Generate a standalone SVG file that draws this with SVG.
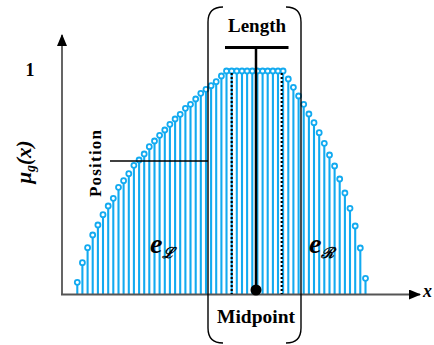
<svg xmlns="http://www.w3.org/2000/svg" width="434" height="345" viewBox="0 0 434 345">
<style>
.st{stroke:#12AAF0;stroke-width:2.1}
.dot{fill:#fff;stroke:#12AAF0;stroke-width:1.8}
.ax{stroke:#555;stroke-width:1.8;fill:none}
.blk{stroke:#000;fill:none}
.lbl{font-family:"Liberation Serif","Times New Roman",serif;font-weight:bold;fill:#000}
</style>
<defs>
<marker id="arr" viewBox="0 0 12 10" refX="11" refY="5" markerWidth="12" markerHeight="10" markerUnits="userSpaceOnUse" orient="auto"><path d="M0,0 L12,5 L0,10 Z" fill="#000"/></marker>
</defs>
<rect width="434" height="345" fill="#fff"/>
<g id="stems">
<line class="st" x1="77.3" y1="294" x2="77.3" y2="282.3"/><circle class="dot" cx="77.3" cy="282.3" r="2.5"/>
<line class="st" x1="82.4" y1="294" x2="82.4" y2="262.7"/><circle class="dot" cx="82.4" cy="262.7" r="2.5"/>
<line class="st" x1="87.6" y1="294" x2="87.6" y2="247.7"/><circle class="dot" cx="87.6" cy="247.7" r="2.5"/>
<line class="st" x1="92.7" y1="294" x2="92.7" y2="235"/><circle class="dot" cx="92.7" cy="235" r="2.5"/>
<line class="st" x1="97.9" y1="294" x2="97.9" y2="225"/><circle class="dot" cx="97.9" cy="225" r="2.5"/>
<line class="st" x1="103" y1="294" x2="103" y2="214.7"/><circle class="dot" cx="103" cy="214.7" r="2.5"/>
<line class="st" x1="108.2" y1="294" x2="108.2" y2="206"/><circle class="dot" cx="108.2" cy="206" r="2.5"/>
<line class="st" x1="113.3" y1="294" x2="113.3" y2="198.3"/><circle class="dot" cx="113.3" cy="198.3" r="2.5"/>
<line class="st" x1="118.5" y1="294" x2="118.5" y2="187.3"/><circle class="dot" cx="118.5" cy="187.3" r="2.5"/>
<line class="st" x1="123.6" y1="294" x2="123.6" y2="180.7"/><circle class="dot" cx="123.6" cy="180.7" r="2.5"/>
<line class="st" x1="128.8" y1="294" x2="128.8" y2="173.7"/><circle class="dot" cx="128.8" cy="173.7" r="2.5"/>
<line class="st" x1="133.9" y1="294" x2="133.9" y2="165.3"/><circle class="dot" cx="133.9" cy="165.3" r="2.5"/>
<line class="st" x1="139.1" y1="294" x2="139.1" y2="160"/><circle class="dot" cx="139.1" cy="160" r="2.5"/>
<line class="st" x1="144.2" y1="294" x2="144.2" y2="154"/><circle class="dot" cx="144.2" cy="154" r="2.5"/>
<line class="st" x1="149.3" y1="294" x2="149.3" y2="146.7"/><circle class="dot" cx="149.3" cy="146.7" r="2.5"/>
<line class="st" x1="154.5" y1="294" x2="154.5" y2="141"/><circle class="dot" cx="154.5" cy="141" r="2.5"/>
<line class="st" x1="159.6" y1="294" x2="159.6" y2="135.3"/><circle class="dot" cx="159.6" cy="135.3" r="2.5"/>
<line class="st" x1="164.8" y1="294" x2="164.8" y2="130"/><circle class="dot" cx="164.8" cy="130" r="2.5"/>
<line class="st" x1="169.9" y1="294" x2="169.9" y2="124.3"/><circle class="dot" cx="169.9" cy="124.3" r="2.5"/>
<line class="st" x1="175.1" y1="294" x2="175.1" y2="119"/><circle class="dot" cx="175.1" cy="119" r="2.5"/>
<line class="st" x1="180.2" y1="294" x2="180.2" y2="114.3"/><circle class="dot" cx="180.2" cy="114.3" r="2.5"/>
<line class="st" x1="185.4" y1="294" x2="185.4" y2="108.3"/><circle class="dot" cx="185.4" cy="108.3" r="2.5"/>
<line class="st" x1="190.5" y1="294" x2="190.5" y2="104.3"/><circle class="dot" cx="190.5" cy="104.3" r="2.5"/>
<line class="st" x1="195.7" y1="294" x2="195.7" y2="99"/><circle class="dot" cx="195.7" cy="99" r="2.5"/>
<line class="st" x1="200.8" y1="294" x2="200.8" y2="93.3"/><circle class="dot" cx="200.8" cy="93.3" r="2.5"/>
<line class="st" x1="206" y1="294" x2="206" y2="89.3"/><circle class="dot" cx="206" cy="89.3" r="2.5"/>
<line class="st" x1="211.1" y1="294" x2="211.1" y2="85.7"/><circle class="dot" cx="211.1" cy="85.7" r="2.5"/>
<line class="st" x1="216.2" y1="294" x2="216.2" y2="81.7"/><circle class="dot" cx="216.2" cy="81.7" r="2.5"/>
<line class="st" x1="221.4" y1="294" x2="221.4" y2="76"/><circle class="dot" cx="221.4" cy="76" r="2.5"/>
<line class="st" x1="226.5" y1="294" x2="226.5" y2="71"/><circle class="dot" cx="226.5" cy="71" r="2.5"/>
<line class="st" x1="231.7" y1="294" x2="231.7" y2="71"/><circle class="dot" cx="231.7" cy="71" r="2.5"/>
<line class="st" x1="236.8" y1="294" x2="236.8" y2="71"/><circle class="dot" cx="236.8" cy="71" r="2.5"/>
<line class="st" x1="242" y1="294" x2="242" y2="71"/><circle class="dot" cx="242" cy="71" r="2.5"/>
<line class="st" x1="247.1" y1="294" x2="247.1" y2="71"/><circle class="dot" cx="247.1" cy="71" r="2.5"/>
<line class="st" x1="252.3" y1="294" x2="252.3" y2="71"/><circle class="dot" cx="252.3" cy="71" r="2.5"/>
<line class="st" x1="257.4" y1="294" x2="257.4" y2="71"/><circle class="dot" cx="257.4" cy="71" r="2.5"/>
<line class="st" x1="262.6" y1="294" x2="262.6" y2="71"/><circle class="dot" cx="262.6" cy="71" r="2.5"/>
<line class="st" x1="267.7" y1="294" x2="267.7" y2="71"/><circle class="dot" cx="267.7" cy="71" r="2.5"/>
<line class="st" x1="272.9" y1="294" x2="272.9" y2="71"/><circle class="dot" cx="272.9" cy="71" r="2.5"/>
<line class="st" x1="278" y1="294" x2="278" y2="71"/><circle class="dot" cx="278" cy="71" r="2.5"/>
<line class="st" x1="283.1" y1="294" x2="283.1" y2="71"/><circle class="dot" cx="283.1" cy="71" r="2.5"/>
<line class="st" x1="288.3" y1="294" x2="288.3" y2="79"/><circle class="dot" cx="288.3" cy="79" r="2.5"/>
<line class="st" x1="293.4" y1="294" x2="293.4" y2="87.3"/><circle class="dot" cx="293.4" cy="87.3" r="2.5"/>
<line class="st" x1="298.6" y1="294" x2="298.6" y2="96"/><circle class="dot" cx="298.6" cy="96" r="2.5"/>
<line class="st" x1="303.7" y1="294" x2="303.7" y2="104.3"/><circle class="dot" cx="303.7" cy="104.3" r="2.5"/>
<line class="st" x1="308.9" y1="294" x2="308.9" y2="114"/><circle class="dot" cx="308.9" cy="114" r="2.5"/>
<line class="st" x1="314" y1="294" x2="314" y2="122.7"/><circle class="dot" cx="314" cy="122.7" r="2.5"/>
<line class="st" x1="319.2" y1="294" x2="319.2" y2="132.7"/><circle class="dot" cx="319.2" cy="132.7" r="2.5"/>
<line class="st" x1="324.3" y1="294" x2="324.3" y2="143.3"/><circle class="dot" cx="324.3" cy="143.3" r="2.5"/>
<line class="st" x1="329.5" y1="294" x2="329.5" y2="155"/><circle class="dot" cx="329.5" cy="155" r="2.5"/>
<line class="st" x1="334.6" y1="294" x2="334.6" y2="166"/><circle class="dot" cx="334.6" cy="166" r="2.5"/>
<line class="st" x1="339.7" y1="294" x2="339.7" y2="179"/><circle class="dot" cx="339.7" cy="179" r="2.5"/>
<line class="st" x1="344.9" y1="294" x2="344.9" y2="193"/><circle class="dot" cx="344.9" cy="193" r="2.5"/>
<line class="st" x1="350" y1="294" x2="350" y2="208.3"/><circle class="dot" cx="350" cy="208.3" r="2.5"/>
<line class="st" x1="355.2" y1="294" x2="355.2" y2="226"/><circle class="dot" cx="355.2" cy="226" r="2.5"/>
<line class="st" x1="360.3" y1="294" x2="360.3" y2="248"/><circle class="dot" cx="360.3" cy="248" r="2.5"/>
<line class="st" x1="365.5" y1="294" x2="365.5" y2="278.3"/><circle class="dot" cx="365.5" cy="278.3" r="2.5"/>
</g>
<g id="axes">
<line class="ax" x1="62" y1="294.5" x2="62" y2="35" marker-end="url(#arr)"/>
<line class="ax" x1="61" y1="294.5" x2="420" y2="294.5" marker-end="url(#arr)"/>
<text class="lbl" x="30" y="76" font-size="18" font-weight="normal" text-anchor="middle">1</text>
<text class="lbl" transform="translate(31,162) rotate(-90)" text-anchor="middle" font-size="21" font-style="italic">μ<tspan font-size="14" dy="4">g</tspan><tspan dy="-4">(x)</tspan></text>
<text class="lbl" x="423" y="297" font-size="18" font-style="italic">x</text>
</g>
<g id="connectors">
<line class="blk" x1="231.7" y1="73" x2="231.7" y2="294" stroke-width="2.2" stroke-dasharray="2 2"/>
<line class="blk" x1="281.7" y1="73" x2="281.7" y2="294" stroke-width="2.2" stroke-dasharray="2 2"/>
<line class="blk" x1="110" y1="161" x2="208" y2="161" stroke-width="1.3"/>
<path class="blk" stroke-width="1.4" d="M223,7 Q208,7 208,22 L208,328 Q208,343 223,343"/>
<path class="blk" stroke-width="1.4" d="M286,7 Q301,7 301,22 L301,328 Q301,343 286,343"/>
<line class="blk" x1="225" y1="47.5" x2="288.5" y2="47.5" stroke-width="3"/>
<line class="blk" x1="256" y1="47.5" x2="256" y2="290" stroke-width="2.5"/>
</g>
<g id="midpoint">
<circle cx="256" cy="290" r="5.5" fill="#000"/>
<text class="lbl" x="256" y="323" font-size="19.5" text-anchor="middle">Midpoint</text>
</g>
<g id="length">
<text class="lbl" x="257" y="32" font-size="19" text-anchor="middle">Length</text>
</g>
<g id="position">
<text class="lbl" transform="translate(101,197) rotate(-90)" font-size="17" textLength="67" lengthAdjust="spacing">Position</text>
</g>
<g id="eL">
<text class="lbl" x="150" y="253" font-size="28" font-style="italic">e<tspan font-family="DejaVu Serif, serif" font-size="15" dy="5">ℒ</tspan></text>
</g>
<g id="eR">
<text class="lbl" x="309" y="253" font-size="28" font-style="italic">e<tspan font-family="DejaVu Serif, serif" font-size="15" dy="5">ℛ</tspan></text>
</g>
</svg>
